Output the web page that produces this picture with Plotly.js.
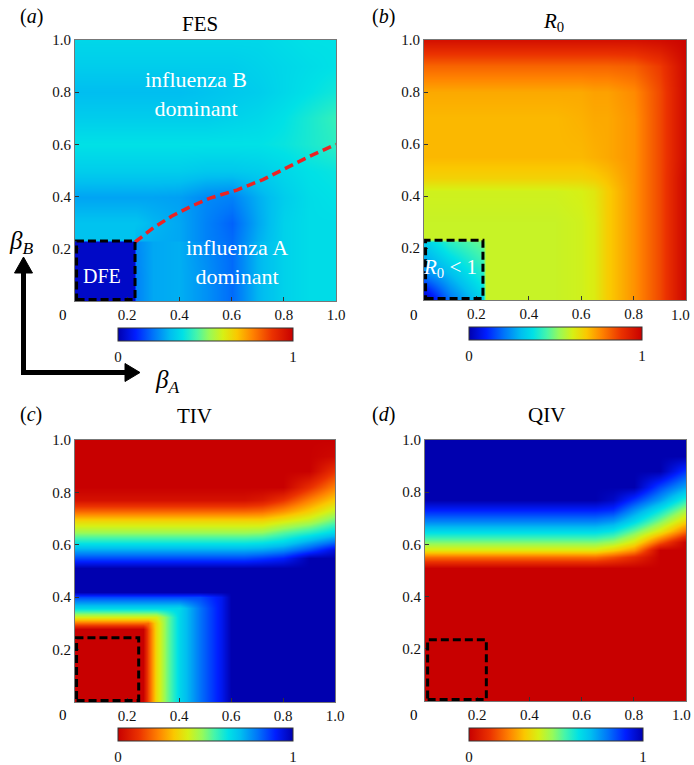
<!DOCTYPE html>
<html><head><meta charset="utf-8">
<script src="https://cdn.plot.ly/plotly-3.0.1.min.js"></script>
<style>html,body{margin:0;padding:0;background:#fff;} #chart{width:694px;height:765px;}</style>
</head><body><div id="chart"></div>
<script>
// ---------- DATA ----------
const axisTicks = [0.2, 0.4, 0.6, 0.8, 1.0];
const axisTickText = ['0.2', '0.4', '0.6', '0.8', '1.0'];
const rightAxisTicks = [0.2, 0.4, 0.6, 0.8];
const rightAxisTickText = ['0.2', '0.4', '0.6', '0.8'];
const cbTicks = [0, 1];
const cbTickText = ['0', '1'];

// (a) FES
const fesX = [0, 0.1, 0.225, 0.235, 0.3, 0.4, 0.5, 0.6, 0.7, 0.8, 0.9, 1.0];
const fesY = [0, 0.1, 0.225, 0.235, 0.3, 0.4, 0.5, 0.6, 0.7, 0.8, 0.9, 1.0];
const fesZ = [
  [0.03,0.03,0.03,0.22,0.27,0.28,0.24,0.19,0.29,0.34,0.36,0.36],
  [0.03,0.03,0.03,0.22,0.27,0.28,0.24,0.19,0.29,0.34,0.36,0.36],
  [0.03,0.03,0.03,0.23,0.27,0.28,0.23,0.19,0.29,0.34,0.36,0.36],
  [0.31,0.31,0.31,0.29,0.28,0.27,0.22,0.19,0.28,0.34,0.36,0.36],
  [0.31,0.31,0.31,0.31,0.29,0.27,0.22,0.18,0.27,0.34,0.36,0.36],
  [0.265,0.265,0.265,0.265,0.265,0.26,0.23,0.22,0.28,0.33,0.36,0.37],
  [0.33,0.33,0.33,0.33,0.33,0.33,0.32,0.32,0.33,0.35,0.37,0.38],
  [0.37,0.37,0.37,0.37,0.37,0.37,0.37,0.37,0.37,0.38,0.40,0.42],
  [0.33,0.33,0.33,0.33,0.33,0.33,0.33,0.34,0.35,0.37,0.40,0.43],
  [0.30,0.30,0.30,0.30,0.30,0.30,0.31,0.32,0.33,0.35,0.37,0.39],
  [0.33,0.33,0.33,0.33,0.33,0.33,0.33,0.33,0.34,0.35,0.36,0.37],
  [0.35,0.35,0.35,0.35,0.35,0.35,0.35,0.35,0.35,0.36,0.37,0.37]
];
const dividerX = [0.23, 0.3, 0.37, 0.45, 0.52, 0.62, 0.72, 0.81, 0.9, 1.0];
const dividerY = [0.226, 0.28, 0.325, 0.365, 0.395, 0.425, 0.465, 0.51, 0.555, 0.60];
const boxFES = [0, 0.23, 0, 0.23];

// (b) R0
const r0X = [0, 0.1, 0.225, 0.235, 0.3, 0.4, 0.5, 0.6, 0.65, 0.7, 0.8, 0.9, 1.0];
const r0Y = [0, 0.1, 0.225, 0.235, 0.3, 0.42, 0.47, 0.55, 0.7, 0.8, 0.9, 1.0];
const r0Z = [
  [0.00,0.20,0.34,0.58,0.58,0.58,0.58,0.59,0.61,0.67,0.75,0.85,0.99],
  [0.22,0.30,0.41,0.58,0.58,0.58,0.58,0.59,0.61,0.67,0.75,0.85,0.99],
  [0.33,0.42,0.48,0.58,0.58,0.58,0.58,0.59,0.61,0.67,0.75,0.85,0.99],
  [0.58,0.58,0.58,0.58,0.58,0.58,0.58,0.59,0.61,0.67,0.75,0.85,0.99],
  [0.58,0.58,0.58,0.58,0.58,0.58,0.58,0.59,0.61,0.67,0.75,0.85,0.99],
  [0.59,0.59,0.59,0.59,0.59,0.59,0.59,0.60,0.62,0.67,0.75,0.85,0.99],
  [0.66,0.66,0.66,0.66,0.66,0.66,0.66,0.66,0.67,0.69,0.75,0.85,0.99],
  [0.70,0.70,0.70,0.70,0.70,0.70,0.70,0.70,0.71,0.72,0.75,0.85,0.98],
  [0.70,0.70,0.70,0.70,0.70,0.70,0.70,0.71,0.72,0.72,0.75,0.85,0.98],
  [0.72,0.72,0.72,0.72,0.72,0.72,0.72,0.72,0.73,0.73,0.76,0.85,0.98],
  [0.81,0.81,0.81,0.81,0.81,0.81,0.81,0.81,0.81,0.81,0.82,0.87,0.98],
  [0.96,0.96,0.96,0.96,0.96,0.96,0.96,0.96,0.96,0.96,0.96,0.97,0.99]
];
const boxR0 = [0, 0.225, 0, 0.23];

// (c) TIV and (d) QIV share a grid
const vacX = [0, 0.1, 0.2, 0.26, 0.28, 0.31, 0.35, 0.4, 0.48, 0.56, 0.6, 0.65, 0.72, 0.8, 0.9, 1.0];
const vacY = [0, 0.1, 0.2, 0.28, 0.30, 0.325, 0.36, 0.40, 0.42, 0.47, 0.51, 0.55, 0.58, 0.61, 0.65, 0.69, 0.73, 0.77, 0.82, 0.88, 0.94, 1.0];
const tivZ = [
  [0,0,0,0,0.15,0.35,0.5,0.65,0.8,0.92,1,1,1,1,1,1],
  [0,0,0,0,0.15,0.35,0.5,0.65,0.8,0.92,1,1,1,1,1,1],
  [0,0,0,0,0.15,0.35,0.5,0.65,0.8,0.92,1,1,1,1,1,1],
  [0,0,0,0,0.15,0.35,0.5,0.65,0.8,0.92,1,1,1,1,1,1],
  [0.2,0.2,0.2,0.2,0.2,0.35,0.5,0.65,0.8,0.92,1,1,1,1,1,1],
  [0.4,0.4,0.4,0.4,0.4,0.4,0.5,0.65,0.8,0.92,1,1,1,1,1,1],
  [0.65,0.65,0.65,0.65,0.65,0.65,0.65,0.65,0.8,0.92,1,1,1,1,1,1],
  [0.85,0.85,0.85,0.85,0.85,0.85,0.85,0.85,0.85,0.92,1,1,1,1,1,1],
  [1,1,1,1,1,1,1,1,1,1,1,1,1,1,1,1],
  [1,1,1,1,1,1,1,1,1,1,1,1,1,1,1,1],
  [1,1,1,1,1,1,1,1,1,1,1,1,1,1,1,1],
  [0.85,0.85,0.85,0.85,0.85,0.85,0.85,0.85,0.85,0.85,0.85,0.85,0.87,0.9,1,1],
  [0.73,0.73,0.73,0.73,0.73,0.73,0.73,0.73,0.73,0.73,0.73,0.73,0.74,0.77,0.85,0.95],
  [0.61,0.61,0.61,0.61,0.61,0.61,0.61,0.61,0.61,0.61,0.61,0.61,0.62,0.65,0.73,0.81],
  [0.47,0.47,0.47,0.47,0.47,0.47,0.47,0.47,0.47,0.47,0.47,0.47,0.48,0.53,0.58,0.65],
  [0.35,0.35,0.35,0.35,0.35,0.35,0.35,0.35,0.35,0.35,0.35,0.35,0.35,0.39,0.44,0.53],
  [0.19,0.19,0.19,0.19,0.19,0.19,0.19,0.19,0.19,0.19,0.19,0.19,0.2,0.25,0.33,0.43],
  [0.04,0.04,0.04,0.04,0.04,0.04,0.04,0.04,0.04,0.04,0.04,0.04,0.06,0.12,0.23,0.33],
  [0,0,0,0,0,0,0,0,0,0,0,0,0,0,0.11,0.23],
  [0,0,0,0,0,0,0,0,0,0,0,0,0,0,0,0.12],
  [0,0,0,0,0,0,0,0,0,0,0,0,0,0,0,0.02],
  [0,0,0,0,0,0,0,0,0,0,0,0,0,0,0,0]
];
const qivZ = [
  [0,0,0,0,0,0,0,0,0,0,0,0,0,0,0,0],
  [0,0,0,0,0,0,0,0,0,0,0,0,0,0,0,0],
  [0,0,0,0,0,0,0,0,0,0,0,0,0,0,0,0],
  [0,0,0,0,0,0,0,0,0,0,0,0,0,0,0,0],
  [0,0,0,0,0,0,0,0,0,0,0,0,0,0,0,0],
  [0,0,0,0,0,0,0,0,0,0,0,0,0,0,0,0],
  [0,0,0,0,0,0,0,0,0,0,0,0,0,0,0,0],
  [0,0,0,0,0,0,0,0,0,0,0,0,0,0,0,0],
  [0,0,0,0,0,0,0,0,0,0,0,0,0,0,0,0],
  [0,0,0,0,0,0,0,0,0,0,0,0,0,0,0,0],
  [0,0,0,0,0,0,0,0,0,0,0,0,0,0,0,0],
  [0.2,0.2,0.2,0.2,0.2,0.2,0.2,0.2,0.2,0.2,0.2,0.2,0.16,0.1,0,0],
  [0.38,0.38,0.38,0.38,0.38,0.38,0.38,0.38,0.38,0.38,0.38,0.38,0.33,0.25,0,0],
  [0.5,0.5,0.5,0.5,0.5,0.5,0.5,0.5,0.5,0.5,0.5,0.5,0.47,0.38,0.17,0],
  [0.65,0.65,0.65,0.65,0.65,0.65,0.65,0.65,0.65,0.65,0.65,0.65,0.62,0.52,0.38,0.2],
  [0.78,0.78,0.78,0.78,0.78,0.78,0.78,0.78,0.78,0.78,0.78,0.78,0.75,0.65,0.5,0.34],
  [0.9,0.9,0.9,0.9,0.9,0.9,0.9,0.9,0.9,0.9,0.9,0.9,0.88,0.76,0.62,0.46],
  [1,1,1,1,1,1,1,1,1,1,1,1,0.97,0.87,0.74,0.58],
  [1,1,1,1,1,1,1,1,1,1,1,1,1,1,0.85,0.73],
  [1,1,1,1,1,1,1,1,1,1,1,1,1,1,1,0.87],
  [1,1,1,1,1,1,1,1,1,1,1,1,1,1,1,1],
  [1,1,1,1,1,1,1,1,1,1,1,1,1,1,1,1]
];
const boxTIV = [0, 0.245, 0, 0.245];
const boxQIV = [0.01, 0.235, 0, 0.235];

// ---------- STYLE ----------
const FONT = "'Liberation Serif', 'Times New Roman', Times, serif";
const W = 694, H = 765;
const fx = v => v / W;
const fy = v => 1 - v / H;

const jet = [
  [0, 'rgb(0,0,175)'],
  [0.1, 'rgb(0,30,255)'],
  [0.2, 'rgb(0,115,250)'],
  [0.3, 'rgb(0,190,240)'],
  [0.37, 'rgb(0,225,230)'],
  [0.45, 'rgb(70,245,170)'],
  [0.52, 'rgb(150,250,90)'],
  [0.6, 'rgb(215,240,20)'],
  [0.68, 'rgb(250,200,0)'],
  [0.77, 'rgb(255,130,0)'],
  [0.88, 'rgb(235,50,0)'],
  [1, 'rgb(200,0,0)']
];

function cbar(leftPx, rightPx, topPx) {
  return {
    orientation: 'h',
    x: fx((leftPx + rightPx) / 2), xanchor: 'center', xref: 'paper',
    y: fy(topPx), yanchor: 'top', yref: 'paper',
    len: rightPx - leftPx, lenmode: 'pixels',
    thickness: 13, thicknessmode: 'pixels',
    xpad: 0, ypad: 0,
    outlinewidth: 1, outlinecolor: '#333',
    tickvals: cbTicks, ticktext: cbTickText,
    ticks: 'outside', ticklen: 3, tickcolor: 'rgba(0,0,0,0)',
    tickfont: {family: FONT, size: 15, color: '#111'}
  };
}

function xAxis(l, r, anchor, tv, tt) {
  return {
    domain: [fx(l), fx(r)], anchor: anchor, range: [0, 1],
    tickvals: tv, ticktext: tt,
    ticks: 'inside', ticklen: 4, tickcolor: '#333',
    showline: true, mirror: true, linecolor: '#777', linewidth: 1,
    showgrid: false, zeroline: false, fixedrange: true,
    tickfont: {family: FONT, size: 15, color: '#111'}
  };
}
function yAxis(t, b, anchor) {
  return {
    domain: [fy(b), fy(t)], anchor: anchor, range: [0, 1],
    tickvals: axisTicks, ticktext: axisTickText,
    ticks: 'inside', ticklen: 4, tickcolor: '#333',
    showline: true, mirror: true, linecolor: '#777', linewidth: 1,
    showgrid: false, zeroline: false, fixedrange: true,
    tickfont: {family: FONT, size: 15, color: '#111'}
  };
}

const traces = [
  {type: 'heatmap', x: fesX, y: fesY, z: fesZ, zmin: 0, zmax: 1, zsmooth: 'best',
   colorscale: jet, xaxis: 'x', yaxis: 'y', hoverinfo: 'skip', colorbar: cbar(118, 293, 328)},
  {type: 'scatter', mode: 'lines', x: dividerX, y: dividerY, xaxis: 'x', yaxis: 'y',
   line: {color: 'rgb(235,35,35)', width: 3.5, dash: '9px,5px'}, hoverinfo: 'skip', showlegend: false},
  {type: 'heatmap', x: r0X, y: r0Y, z: r0Z, zmin: 0, zmax: 1, zsmooth: 'best',
   colorscale: jet, xaxis: 'x2', yaxis: 'y2', hoverinfo: 'skip', colorbar: cbar(469, 642, 327)},
  {type: 'heatmap', x: vacX, y: vacY, z: tivZ, zmin: 0, zmax: 1, zsmooth: 'best',
   colorscale: jet, reversescale: true, xaxis: 'x3', yaxis: 'y3', hoverinfo: 'skip', colorbar: cbar(118, 293, 728)},
  {type: 'heatmap', x: vacX, y: vacY, z: qivZ, zmin: 0, zmax: 1, zsmooth: 'best',
   colorscale: jet, reversescale: true, xaxis: 'x4', yaxis: 'y4', hoverinfo: 'skip', colorbar: cbar(469, 643, 728)}
];

function boxShape(b, xr, yr) {
  return {type: 'rect', xref: xr, yref: yr,
    x0: Math.max(b[0], 0.006), x1: b[1], y0: Math.max(b[2], 0.006), y1: b[3],
    line: {color: '#000', width: 3, dash: '8px,4px'}, fillcolor: 'rgba(0,0,0,0)', layer: 'above'};
}

const shapes = [
  boxShape(boxFES, 'x', 'y'),
  boxShape(boxR0, 'x2', 'y2'),
  boxShape(boxTIV, 'x3', 'y3'),
  boxShape(boxQIV, 'x4', 'y4'),
  {type: 'line', xref: 'paper', yref: 'paper', x0: fx(23.5), y0: fy(375), x1: fx(23.5), y1: fy(270),
   line: {color: '#000', width: 5}},
  {type: 'path', xref: 'paper', yref: 'paper',
   path: `M ${fx(14.5)},${fy(273)} L ${fx(32.5)},${fy(273)} L ${fx(23.5)},${fy(257)} Z`,
   fillcolor: '#000', line: {color: '#000', width: 1}},
  {type: 'line', xref: 'paper', yref: 'paper', x0: fx(21), y0: fy(372.5), x1: fx(128), y1: fy(372.5),
   line: {color: '#000', width: 5}},
  {type: 'path', xref: 'paper', yref: 'paper',
   path: `M ${fx(125)},${fy(363.5)} L ${fx(125)},${fy(381.5)} L ${fx(140)},${fy(372.5)} Z`,
   fillcolor: '#000', line: {color: '#000', width: 1}}
];

function ann(text, xPx, yPx, size, color) {
  return {text: text, xref: 'paper', yref: 'paper', x: fx(xPx), y: fy(yPx),
    xanchor: 'center', yanchor: 'middle', showarrow: false,
    font: {family: FONT, size: size, color: color || '#000'}};
}

const annotations = [
  ann('(<i>a</i>)', 31, 16, 20),
  ann('FES', 200, 24, 21),
  ann('(<i>b</i>)', 383, 16, 20),
  ann('<i>R</i><sub>0</sub>', 553, 22, 21),
  ann('(<i>c</i>)', 31, 415, 20),
  ann('TIV', 194, 416, 21),
  ann('(<i>d</i>)', 383, 415, 20),
  ann('QIV', 546, 415, 21),
  ann('influenza B<br>dominant', 196, 94, 22, '#fff'),
  ann('influenza A<br>dominant', 237, 262, 22, '#fff'),
  ann('DFE', 102, 276, 20, '#fff'),
  ann('<i>R</i><sub>0</sub> &lt; 1', 450, 268, 21, '#fff'),
  ann('<i>β</i><sub><i>B</i></sub>', 21, 242, 25),
  ann('<i>β</i><sub><i>A</i></sub>', 167, 381, 25),
  ann('0', 63, 315, 15),
  ann('0', 414, 315, 15),
  ann('0', 63, 715, 15),
  ann('0', 414, 715, 15),
  ann('1.0', 680, 315, 15, '#111'),
  ann('1.0', 681, 715, 15, '#111')
];

const layout = {
  width: W, height: H,
  margin: {l: 0, r: 0, t: 0, b: 0, autoexpand: false},
  paper_bgcolor: '#fff', plot_bgcolor: '#fff',
  showlegend: false,
  font: {family: FONT, color: '#000'},
  xaxis: xAxis(75, 336, 'y', axisTicks, axisTickText), yaxis: yAxis(40, 301, 'x'),
  xaxis2: xAxis(424, 686, 'y2', rightAxisTicks, rightAxisTickText), yaxis2: yAxis(40, 300, 'x2'),
  xaxis3: xAxis(75, 335, 'y3', axisTicks, axisTickText), yaxis3: yAxis(440, 702, 'x3'),
  xaxis4: xAxis(425, 686, 'y4', rightAxisTicks, rightAxisTickText), yaxis4: yAxis(440, 701, 'x4'),
  shapes: shapes,
  annotations: annotations
};

Plotly.newPlot('chart', traces, layout, {displayModeBar: false, staticPlot: true});
</script></body></html>
